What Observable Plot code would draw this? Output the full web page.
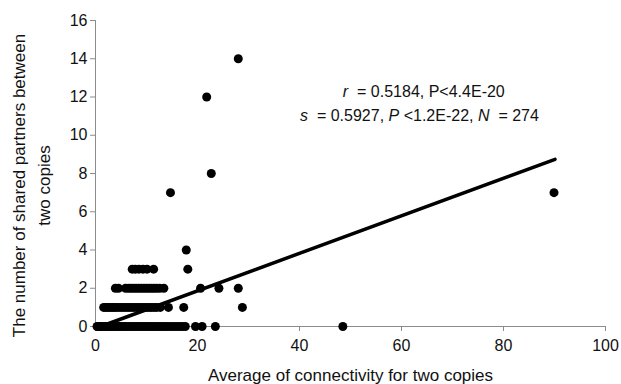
<!DOCTYPE html>
<html>
<head>
<meta charset="utf-8">
<script src="https://cdn.jsdelivr.net/npm/d3@7"></script>
<script src="https://cdn.jsdelivr.net/npm/@observablehq/plot@0.6"></script>
<style>
  body { margin: 0; background: #fff; }
  #chart svg { display: block; }
</style>
</head>
<body>
<div id="chart"></div>
<script>
// Points, grouped by y value (number of shared partners)
const row0 = [0.3, 0.7, 1, 1.4, 1.8, 2.2, 2.6, 3, 3.4, 3.8, 4.2, 4.7, 5.1, 5.6, 6, 6.5, 7, 7.5, 8, 8.5, 9, 9.5, 10, 10.5, 11, 11.5, 12, 12.5, 13, 13.5, 14, 14.6, 15.2, 15.8, 16.4, 17, 17.6, 19.6, 20.9, 23.5, 48.5];
const row1 = [1.6, 2, 2.4, 2.8, 3.2, 3.6, 4, 4.5, 5, 5.5, 6, 6.5, 7, 7.5, 8, 8.5, 9, 9.5, 10, 10.5, 11, 11.5, 12, 12.7, 14.3, 17.3, 28.8];
const row2 = [3.9, 4.5, 5.9, 6.5, 7, 7.5, 8, 8.5, 9, 9.5, 10, 10.5, 11, 11.5, 12, 12.6, 13.4, 20.6, 24.2, 28];
const row3 = [7.2, 7.8, 8.5, 9.3, 10.1, 11.4, 18.1];
const otherX = [17.8, 14.7, 89.9, 22.7, 21.8, 28];
const otherY = [4, 7, 7, 8, 12, 14];

// Trend line endpoints
const trendX = [1, 90.1];
const trendY = [0.0, 8.74];

const xTicks = [0, 20, 40, 60, 80, 100];
const yTicks = [0, 2, 4, 6, 8, 10, 12, 14, 16];
const xLabel = "Average of connectivity for two copies";
const yLabel = "The number of shared partners between\ntwo copies";

const points = [
  ...row0.map(x => ({x, y: 0})),
  ...row1.map(x => ({x, y: 1})),
  ...row2.map(x => ({x, y: 2})),
  ...row3.map(x => ({x, y: 3})),
  ...otherX.map((x, i) => ({x, y: otherY[i]}))
];
const trend = trendX.map((x, i) => ({x, y: trendY[i]}));

const font = "'Liberation Sans', Arial, sans-serif";
const axisGray = "#8c8c8c";
const fs = 16;
const fsTitle = 17;

const chart = Plot.plot({
  width: 621,
  height: 384,
  marginLeft: 95,
  marginRight: 16,
  marginTop: 20,
  marginBottom: 58,
  style: { fontFamily: font, fontSize: fs + "px", background: "#fff", overflow: "visible" },
  x: { domain: [0, 100] },
  y: { domain: [0, 16] },
  marks: [
    Plot.axisX({ ticks: xTicks, tickSize: 5, tickPadding: 8, stroke: axisGray, fill: "#111", label: null, fontSize: fs }),
    Plot.axisY({ ticks: yTicks, tickSize: 5, tickPadding: 3, stroke: axisGray, fill: "#111", label: null, fontSize: fs }),
    Plot.ruleY([0], { stroke: axisGray, strokeWidth: 1 }),
    Plot.ruleX([0], { stroke: axisGray, strokeWidth: 1 }),
    Plot.dot(points, { x: "x", y: "y", r: 4.5, fill: "#000", stroke: null }),
    Plot.line(trend, { x: "x", y: "y", stroke: "#000", strokeWidth: 3.5 }),
    Plot.text([xLabel], { text: d => d, frameAnchor: "bottom", dy: 54, fontSize: fsTitle, fill: "#111" }),
    Plot.text([yLabel], { text: d => d, frameAnchor: "left", textAnchor: "middle", lineAnchor: "middle", rotate: -90, dx: -66, dy: 12, fontSize: fsTitle, lineHeight: 1.45, fill: "#111" })
  ]
});

document.getElementById("chart").appendChild(chart);

// Annotation with italic statistic symbols
const sx = chart.scale("x"), sy = chart.scale("y");
const svg = d3.select(chart);
const ann = [
  { x: 48.6, y: 12.0, parts: [["r", true], ["\u00a0 = 0.5184, P<4.4E-20", false]] },
  { x: 40.2, y: 10.7, parts: [["s", true], ["\u00a0 = 0.5927, ", false], ["P", true], ["\u00a0<1.2E-22, ", false], ["N", true], ["\u00a0 = 274", false]] }
];
for (const a of ann) {
  const t = svg.append("text")
    .attr("x", sx.apply(a.x))
    .attr("y", sy.apply(a.y))
    .attr("text-anchor", "start")
    .attr("font-family", font)
    .attr("font-size", fs)
    .attr("fill", "#111");
  for (const [s, it] of a.parts) {
    t.append("tspan").attr("font-style", it ? "italic" : "normal").text(s);
  }
}
</script>
</body>
</html>
